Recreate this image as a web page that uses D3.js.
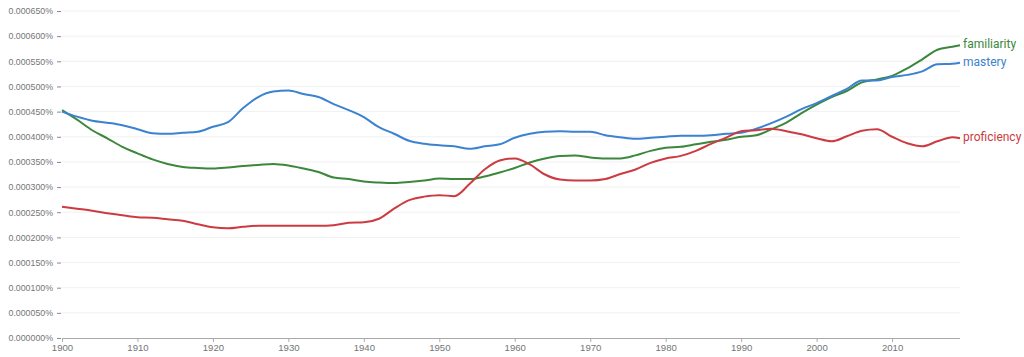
<!DOCTYPE html>
<html>
<head>
<meta charset="utf-8">
<script src="https://cdn.jsdelivr.net/npm/d3@7"></script>
<style>
  html, body { margin: 0; padding: 0; background: #fff; }
  svg { display: block; font-family: Roboto, "Noto Sans", sans-serif; }
</style>
</head>
<body>
<svg id="chart" width="1024" height="357"></svg>
<script>
// Years sampled from the chart
const years = [1900,1902,1904,1906,1908,1910,1912,1914,1916,1918,1920,1922,1924,1926,1928,1930,1932,1934,1936,1938,1940,1942,1944,1946,1948,1950,1952,1954,1956,1958,1960,1962,1964,1966,1968,1970,1972,1974,1976,1978,1980,1982,1984,1986,1988,1990,1992,1994,1996,1998,2000,2002,2004,2006,2008,2010,2012,2014,2016,2018,2019];

// Values in millionths of a percent (e.g. 450 = 0.000450%)
const mastery = [450,440,432,428,423,415,407,406,408,410,420,429,457,479,490,492,485,479,465,453,439,419,406,392,386,383,381,376,381,385,398,406,410,411,410,410,403,399,396,398,400,402,402,403,406,408,416,427,440,455,467,481,495,512,512,519,523,530,544,545,547];
const familiarity = [453,434,413,397,380,367,355,346,340,338,337,339,342,344,346,343,337,330,319,316,311,309,308,310,313,317,316,316,321,329,338,349,357,362,363,359,357,357,363,372,378,380,385,390,394,400,403,415,428,447,464,479,491,508,514,521,536,554,573,579,582];
const proficiency = [261,257,253,248,244,240,239,236,233,226,220,218,221,223,223,223,223,223,224,229,230,237,257,274,281,284,282,306,335,353,357,345,325,315,313,313,316,326,335,348,357,362,372,386,398,411,413,416,411,405,397,391,401,412,415,400,387,381,391,399,397];

const seriesNames = ["familiarity", "mastery", "proficiency"];
const seriesColors = ["#3b873b", "#3b82d0", "#cc3b41"];
const seriesValues = [familiarity, mastery, proficiency];

const yTicks = [0,50,100,150,200,250,300,350,400,450,500,550,600,650];
const xTicks = [1900,1910,1920,1930,1940,1950,1960,1970,1980,1990,2000,2010];

const svg = d3.select("#chart");
const mLeft = 62, mRight = 960, mTop = 11, mBottom = 338;

const x = d3.scaleLinear().domain([1900, 2019]).range([mLeft, mRight]);
const y = d3.scaleLinear().domain([0, 650]).range([mBottom, mTop]);

// gridlines
svg.append("g").selectAll("line").data(yTicks.filter(d => d > 0)).join("line")
  .attr("x1", mLeft).attr("x2", mRight)
  .attr("y1", d => y(d)).attr("y2", d => y(d))
  .attr("stroke", "#f1f1f1").attr("stroke-width", 1);

// y axis
const yAxis = d3.axisLeft(y).tickValues(yTicks).tickSize(4).tickPadding(4)
  .tickFormat(d => (d / 1e6).toFixed(6) + "%");
const gy = svg.append("g").attr("transform", `translate(${mLeft - 1},0)`).call(yAxis);
gy.select(".domain").remove();
gy.selectAll(".tick line").attr("stroke", "#888");
gy.selectAll(".tick text").attr("fill", "#757575").style("font-size", "8.8px");

// x axis
const xAxis = d3.axisBottom(x).tickValues(xTicks).tickSize(4).tickPadding(2).tickFormat(d3.format("d"));
const gx = svg.append("g").attr("transform", `translate(0,${mBottom})`).call(xAxis);
gx.select(".domain").attr("stroke", "#aaa").attr("d", `M${mLeft},0.5H${mRight}`);
gx.selectAll(".tick line").attr("stroke", "#aaa");
gx.selectAll(".tick text").attr("fill", "#757575").style("font-size", "9.6px");

// lines
const line = d3.line().x((d, i) => x(years[i])).y(d => y(d)).curve(d3.curveMonotoneX);
seriesValues.forEach((vals, k) => {
  svg.append("path").datum(vals)
    .attr("fill", "none")
    .attr("stroke", seriesColors[k])
    .attr("stroke-width", 2)
    .attr("stroke-linejoin", "round")
    .attr("d", line);
  svg.append("text")
    .attr("x", x(years[years.length - 1]) + 3)
    .attr("y", y(vals[vals.length - 1]) - 1)
    .attr("dy", "0.35em")
    .attr("fill", seriesColors[k])
    .style("font-size", "12px")
    .text(seriesNames[k]);
});
</script>
</body>
</html>
